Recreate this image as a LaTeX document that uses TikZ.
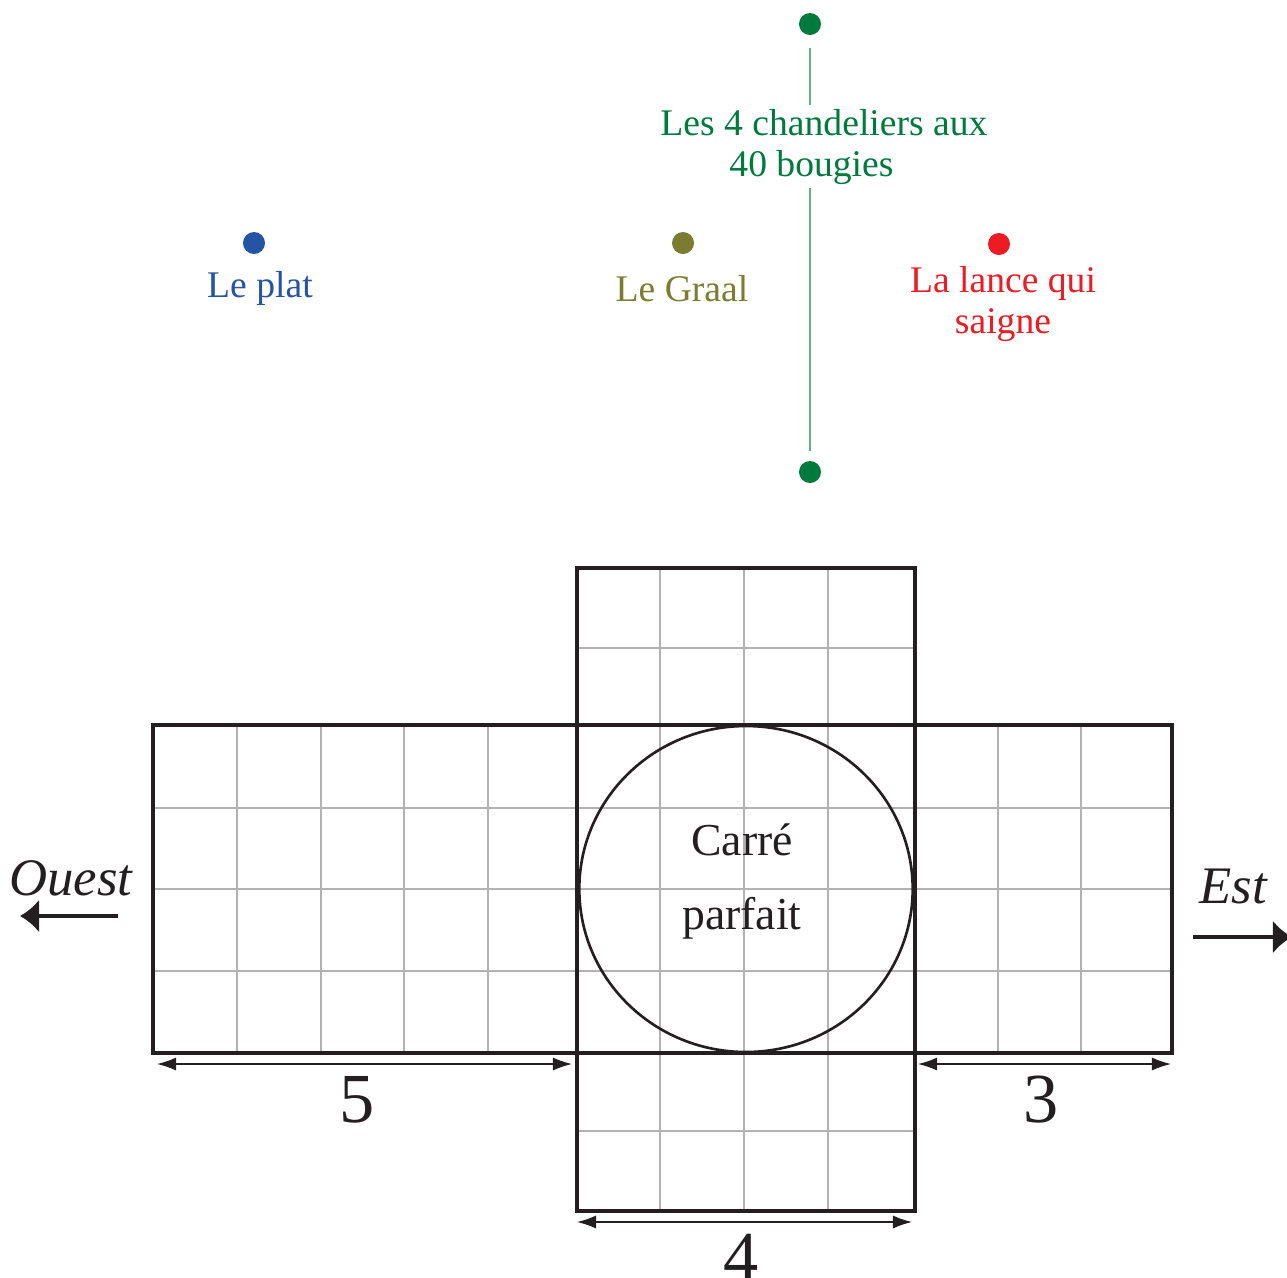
\documentclass[tikz,border=0pt]{standalone}
\usepackage{fontspec}
\setmainfont{Liberation Serif}
\usetikzlibrary{arrows.meta}
\definecolor{ink}{RGB}{35,31,32}
\definecolor{candle}{RGB}{0,122,61}
\definecolor{platblue}{RGB}{38,84,164}
\definecolor{graalolive}{RGB}{124,124,48}
\definecolor{lancered}{RGB}{237,28,36}
\tikzset{
  cell/.style={draw=gray!60, line width=0.4pt},
  thickframe/.style={draw=ink, line width=1pt},
  dot/.style={circle, fill=#1, inner sep=0pt, minimum size=0.22cm},
  lbl/.style={text=#1, font=\fontsize{10.7}{11.5}\selectfont, align=center, inner sep=0pt, anchor=base},
  dimline/.style={{Latex[length=1.9mm,width=1.3mm]}-{Latex[length=1.9mm,width=1.3mm]}, draw=ink, line width=0.4pt},
  dimnum/.style={text=ink, font=\fontsize{20}{24}\selectfont, anchor=base},
  compass/.style={text=ink, font=\fontsize{15}{18}\selectfont\itshape, anchor=base},
  bigarrow/.style={-{Latex[length=1.9mm,width=3.3mm]}, draw=ink, line width=0.9pt}
}
\begin{document}
\begin{tikzpicture}[x=0.01cm, y=-0.01cm]
  \useasboundingbox (0,0) rectangle (1287,1278);

  \node at (810, 24) [dot=candle] (chandA) {};
  \node at (810, 472) [dot=candle] (chandB) {};
  \node at (824, 176) [lbl=candle, inner sep=1pt] (chandlbl) {Les 4 chandeliers aux\\40 bougies\hspace*{0.25cm}};
  \draw[candle!60, line width=0.4pt, shorten <=0.12cm] (chandA) -- (chandA |- chandlbl.north);
  \draw[candle!60, line width=0.4pt, shorten >=0.09cm] (chandA |- chandlbl.south) -- (chandB);

  \node at (254, 243) [dot=platblue] (plat) {};
  \node at (260, 297) [lbl=platblue] (platlbl) {Le plat};
  \node at (683, 243) [dot=graalolive] (graal) {};
  \node at (682, 301) [lbl=graalolive] (graallbl) {Le Graal};
  \node at (999, 244) [dot=lancered] (lance) {};
  \node at (1003, 333) [lbl=lancered] (lancelbl) {La lance qui\\saigne};

  \foreach \gx in {237, 321, 404, 488, 998, 1081}
    \draw[cell] (\gx, 725) -- (\gx, 1053);
  \foreach \gx in {660, 744, 828}
    \draw[cell] (\gx, 568) -- (\gx, 1211);
  \foreach \gy in {808, 889, 971}
    \draw[cell] (153, \gy) -- (1172, \gy);
  \foreach \gy in {648, 1131}
    \draw[cell] (577, \gy) -- (915, \gy);

  \draw[thickframe] (153, 725) rectangle (1172, 1053);
  \draw[thickframe] (577, 568) rectangle (915, 1211);
  \draw[ink, line width=0.75pt] (746, 889) ellipse [x radius=166.7, y radius=163];
  \node at (742, 929) [text=ink, font=\fontsize{13}{21}\selectfont, align=center, anchor=base] (carre) {Carré\\parfait};

  \coordinate (fiveL) at (157, 1064);
  \coordinate (fiveR) at (572, 1064);
  \coordinate (threeL) at (918, 1064);
  \coordinate (threeR) at (1171, 1064);
  \coordinate (fourL) at (577, 1222);
  \coordinate (fourR) at (912, 1222);
  \draw[dimline] (fiveL) -- (fiveR);
  \draw[dimline] (threeL) -- (threeR);
  \draw[dimline] (fourL) -- (fourR);
  \node at (357, 1122) [dimnum] (five) {5};
  \node at (1041, 1122) [dimnum] (three) {3};
  \node at (741, 1280) [dimnum] (four) {4};

  \node at (71, 895) [compass] (ouest) {Ouest};
  \coordinate (ouestS) at (118, 916);
  \coordinate (ouestE) at (20, 916);
  \draw[bigarrow] (ouestS) -- (ouestE);
  \node at (1233, 903) [compass] (est) {Est};
  \coordinate (estS) at (1193, 937);
  \coordinate (estE) at (1292, 937);
  \draw[bigarrow] (estS) -- (estE);
\end{tikzpicture}
\end{document}
